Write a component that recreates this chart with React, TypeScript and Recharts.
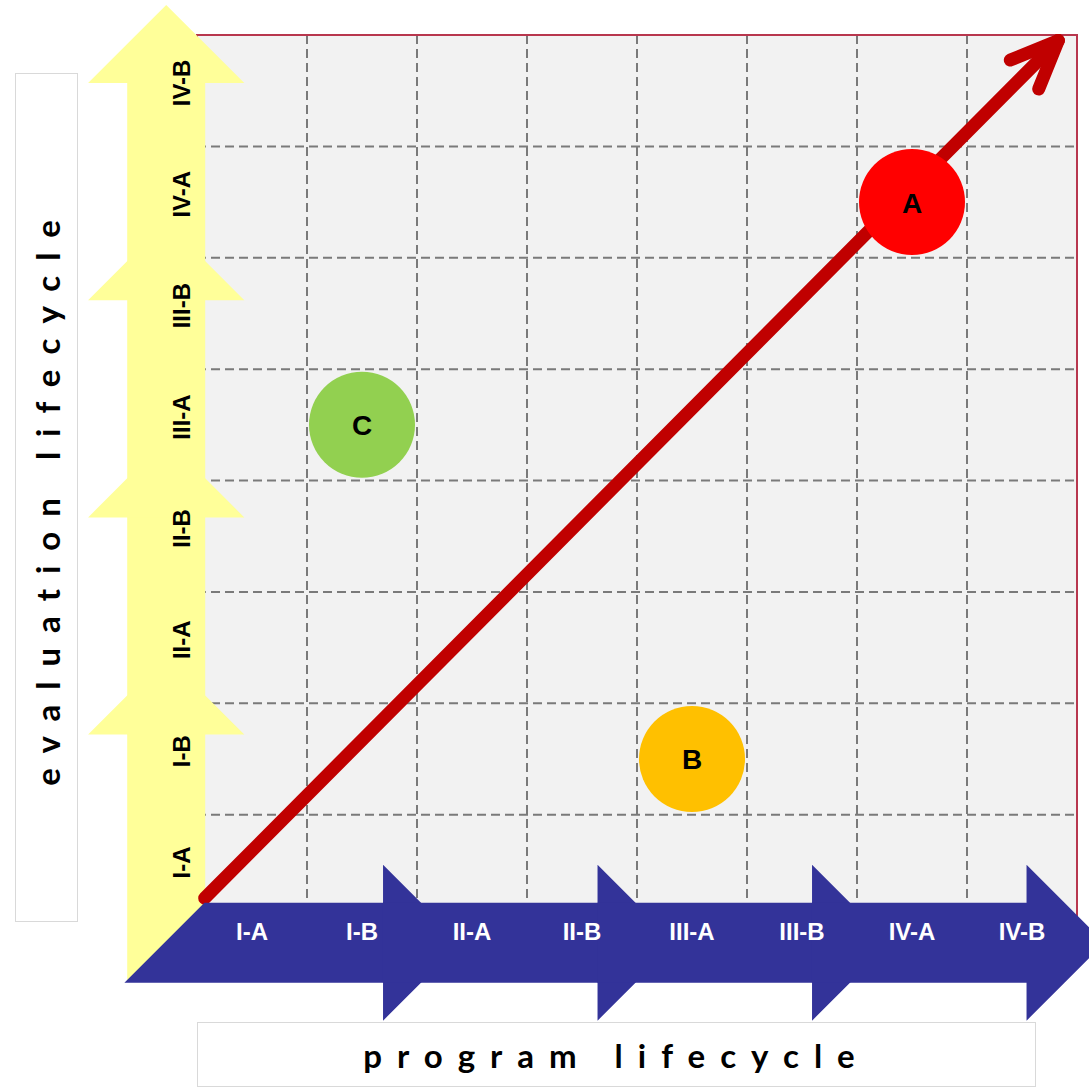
import React from 'react';
import {
  ScatterChart,
  Scatter,
  XAxis,
  YAxis,
  CartesianGrid,
  ReferenceArea,
  ReferenceLine,
  ReferenceDot,
} from 'recharts';

// stage labels on both lifecycles
const programStages = ['I-A', 'I-B', 'II-A', 'II-B', 'III-A', 'III-B', 'IV-A', 'IV-B'];
const evaluationStages = ['I-A', 'I-B', 'II-A', 'II-B', 'III-A', 'III-B', 'IV-A', 'IV-B'];
const gridTicks = [0, 1, 2, 3, 4, 5, 6, 7, 8];

// programs placed on the grid
const programNames = ['A', 'B', 'C'];
const programStage = [6.5, 4.5, 1.5];
const evaluationStage = [6.5, 1.5, 4.5];
const programColors = ['#ff0000', '#ffc000', '#92d050'];

// ideal path
const trendStart = { x: 0.07, y: 0.25 };
const trendEnd = { x: 7.83, y: 7.95 };

const points = programNames.map((name, i) => ({
  name,
  x: programStage[i],
  y: evaluationStage[i],
  color: programColors[i],
}));

// geometry of the chevron arrows (in axis units)
const SEG_STEP = 1.95;
const Y_HEAD0 = 1.72;
const X_HEAD0 = 1.69;
const Y_HEAD_LEN = 0.7;
const X_HEAD_LEN = 0.71;
const YELLOW_X = [-0.99, 0.43];
const YELLOW_BOTTOM = -0.49;
const BLUE_Y = [-0.85, 0.55];
const BLUE_TAIL = -0.66;

const LABEL_FONT = '"Liberation Sans", Arial, sans-serif';
const TITLE_FONT = 'Lato, "Open Sans", sans-serif';

const toPts = (pts: number[][]) => pts.map((p) => p.join(',')).join(' ');

const UpArrow = (props: any) => {
  const { x, y, width, height } = props;
  const cx = x + width / 2;
  const hh = width / 2;
  const bw = 39;
  const pts = [
    [cx, y],
    [x + width, y + hh],
    [cx + bw, y + hh],
    [cx + bw, y + height],
    [cx - bw, y + height],
    [cx - bw, y + hh],
    [x, y + hh],
  ];
  return <polygon points={toPts(pts)} fill="#ffff99" />;
};

const rightArrow = (tail: boolean) => (props: any) => {
  const { x, y, width, height } = props;
  const cy = y + height / 2;
  const hl = height / 2;
  const bh = 40;
  const right = x + width;
  const hb = right - hl;
  const pts = [
    [x + (tail ? 2 * bh : 0), cy - bh],
    [hb, cy - bh],
    [hb, y],
    [right, cy],
    [hb, y + height],
    [hb, cy + bh],
    [x, cy + bh],
  ];
  return <polygon points={toPts(pts)} fill="#333399" />;
};

const Bubble = (props: any) => {
  const { cx, cy, payload } = props;
  return (
    <g>
      <circle cx={cx} cy={cy} r={53} fill={payload.color} />
      <text
        x={cx}
        y={cy + 1}
        textAnchor="middle"
        dominantBaseline="central"
        fontSize={28}
        fontWeight="bold"
        fontFamily={LABEL_FONT}
        fill="#000"
      >
        {payload.name}
      </text>
    </g>
  );
};

// arrowhead wings computed off the trend direction
const dx = trendEnd.x - trendStart.x;
const dy = trendEnd.y - trendStart.y;
const back = Math.atan2(-dy, -dx);
const wing = (a: number) => ({
  x: trendEnd.x + 0.47 * Math.cos(back + a),
  y: trendEnd.y + 0.47 * Math.sin(back + a),
});
const wingL = wing(-0.4);
const wingR = wing(0.4);

export default function App() {
  const trendStyle = { stroke: '#c00000', strokeWidth: 13, strokeLinecap: 'round' as const };
  return (
    <div style={{ position: 'absolute', left: 0, top: 0, width: 1089, height: 1088, background: '#fff' }}>
      <div
        style={{
          position: 'absolute',
          left: 15,
          top: 73,
          width: 63,
          height: 849,
          border: '1px solid #d9d9d9',
          boxSizing: 'border-box',
          display: 'flex',
          alignItems: 'center',
          justifyContent: 'center',
        }}
      >
        <span
          style={{
            writingMode: 'vertical-rl',
            transform: 'rotate(180deg)',
            fontFamily: TITLE_FONT,
            fontWeight: 700,
            fontSize: 33,
            letterSpacing: 15,
            paddingTop: 15,
            marginTop: 10,
            color: '#000',
          }}
        >
          evaluation lifecycle
        </span>
      </div>
      <div
        style={{
          position: 'absolute',
          left: 197,
          top: 1022,
          width: 839,
          height: 65,
          border: '1px solid #d9d9d9',
          boxSizing: 'border-box',
          display: 'flex',
          alignItems: 'center',
          justifyContent: 'center',
          fontFamily: TITLE_FONT,
          fontWeight: 700,
          fontSize: 33,
          letterSpacing: 15,
          color: '#000',
        }}
      >
        program lifecycle
      </div>
      <div style={{ position: 'absolute', left: 0, top: 0 }}>
        <ScatterChart width={1089} height={1088} margin={{ top: 35, right: 12, bottom: 162, left: 197 }}>
          <XAxis type="number" dataKey="x" domain={[0, 8]} ticks={gridTicks} hide />
          <YAxis type="number" dataKey="y" domain={[0, 8]} ticks={gridTicks} hide />
          <CartesianGrid fill="#f2f2f2" stroke="#7a7a7a" strokeWidth={2} strokeDasharray="9 5" />
          <ReferenceArea x1={0} x2={8} y1={0} y2={8} fill="none" stroke="#b8374e" strokeWidth={2} ifOverflow="visible" zIndex={90} />
          {evaluationStages.map((_, k) =>
            k % 2 === 0 ? (
              <ReferenceArea
                key={`y${k}`}
                x1={YELLOW_X[0]}
                x2={YELLOW_X[1]}
                y1={k === 0 ? YELLOW_BOTTOM : Y_HEAD0 + SEG_STEP * (k / 2 - 1)}
                y2={Y_HEAD0 + SEG_STEP * (k / 2) + Y_HEAD_LEN}
                ifOverflow="visible"
                shape={UpArrow}
                zIndex={100}
              />
            ) : null,
          )}
          <ReferenceLine segment={[trendStart, trendEnd]} {...trendStyle} ifOverflow="visible" zIndex={110} />
          <ReferenceLine segment={[wingL, trendEnd]} {...trendStyle} ifOverflow="visible" zIndex={110} />
          <ReferenceLine segment={[wingR, trendEnd]} {...trendStyle} ifOverflow="visible" zIndex={110} />
          {programStages.map((_, k) =>
            k % 2 === 0 ? (
              <ReferenceArea
                key={`b${k}`}
                x1={k === 0 ? BLUE_TAIL : X_HEAD0 + SEG_STEP * (k / 2 - 1)}
                x2={X_HEAD0 + SEG_STEP * (k / 2) + X_HEAD_LEN}
                y1={BLUE_Y[0]}
                y2={BLUE_Y[1]}
                ifOverflow="visible"
                shape={rightArrow(k === 0)}
                zIndex={120}
              />
            ) : null,
          )}
          {programStages.map((s, i) => (
            <ReferenceDot
              key={`pl${i}`}
              x={i + 0.5}
              y={-0.045}
              ifOverflow="visible"
              zIndex={130}
              shape={(p: any) => (
                <text
                  x={p.cx}
                  y={p.cy}
                  textAnchor="middle"
                  dominantBaseline="central"
                  fontSize={24}
                  fontWeight="bold"
                  fontFamily={LABEL_FONT}
                  fill="#fff"
                >
                  {s}
                </text>
              )}
            />
          ))}
          {evaluationStages.map((s, i) => (
            <ReferenceDot
              key={`el${i}`}
              x={-0.145}
              y={i + 0.57}
              ifOverflow="visible"
              zIndex={130}
              shape={(p: any) => (
                <text
                  x={p.cx}
                  y={p.cy}
                  transform={`rotate(-90 ${p.cx} ${p.cy})`}
                  textAnchor="middle"
                  dominantBaseline="central"
                  fontSize={24}
                  fontWeight="bold"
                  fontFamily={LABEL_FONT}
                  fill="#000"
                >
                  {s}
                </text>
              )}
            />
          ))}
          <Scatter data={points} shape={Bubble} isAnimationActive={false} zIndex={600} />
        </ScatterChart>
      </div>
    </div>
  );
}
